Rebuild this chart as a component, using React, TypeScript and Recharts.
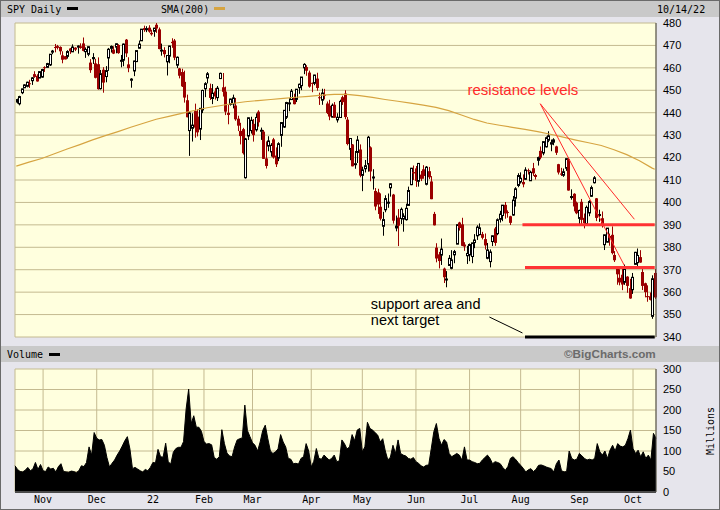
import React from 'react';
import {
  ComposedChart,
  Bar,
  Line,
  Area,
  XAxis,
  YAxis,
  CartesianGrid,
  ReferenceLine,
  ReferenceDot,
} from 'recharts';

// trading sessions, month by month
const months = ['2021-10', '2021-11', '2021-12', '2022-01', '2022-02', '2022-03', '2022-04', '2022-05', '2022-06', '2022-07', '2022-08', '2022-09', '2022-10'];
const tradingDays = [
  [15, 18, 19, 20, 21, 22, 25, 26, 27, 28, 29],
  [1, 2, 3, 4, 5, 8, 9, 10, 11, 12, 15, 16, 17, 18, 19, 22, 23, 24, 26, 29, 30],
  [1, 2, 3, 6, 7, 8, 9, 10, 13, 14, 15, 16, 17, 20, 21, 22, 23, 27, 28, 29, 30, 31],
  [3, 4, 5, 6, 7, 10, 11, 12, 13, 14, 18, 19, 20, 21, 24, 25, 26, 27, 28, 31],
  [1, 2, 3, 4, 7, 8, 9, 10, 11, 14, 15, 16, 17, 18, 22, 23, 24, 25, 28],
  [1, 2, 3, 4, 7, 8, 9, 10, 11, 14, 15, 16, 17, 18, 21, 22, 23, 24, 25, 28, 29, 30, 31],
  [1, 4, 5, 6, 7, 8, 11, 12, 13, 14, 18, 19, 20, 21, 22, 25, 26, 27, 28, 29],
  [2, 3, 4, 5, 6, 9, 10, 11, 12, 13, 16, 17, 18, 19, 20, 23, 24, 25, 26, 27, 31],
  [1, 2, 3, 6, 7, 8, 9, 10, 13, 14, 15, 16, 17, 21, 22, 23, 24, 27, 28, 29, 30],
  [1, 5, 6, 7, 8, 11, 12, 13, 14, 15, 18, 19, 20, 21, 22, 25, 26, 27, 28, 29],
  [1, 2, 3, 4, 5, 8, 9, 10, 11, 12, 15, 16, 17, 18, 19, 22, 23, 24, 25, 26, 29, 30, 31],
  [1, 2, 6, 7, 8, 9, 12, 13, 14, 15, 16, 19, 20, 21, 22, 23, 26, 27, 28, 29, 30],
  [3, 4, 5, 6, 7, 10, 11, 12, 13, 14],
];
const monthLabels = ['Nov', 'Dec', '22', 'Feb', 'Mar', 'Apr', 'May', 'Jun', 'Jul', 'Aug', 'Sep', 'Oct'];

const opens = [
  444.75, 443.97, 448.92, 451.13, 451.77, 453.13, 454.28, 457.2, 456.45, 455.46, 455.87,
  460.3, 460.22, 461.3, 467.0, 469.28, 469.7, 469.32, 465.58, 465.21, 465.12, 468.64, 467.15, 469.0, 469.24, 469.61, 470.89, 467.22, 466.06, 462.34, 464.07, 462.0,
  461.64, 450.73, 459.17, 456.13, 464.41, 468.7, 468.15, 469.23, 470.19, 463.09, 463.42, 472.57, 461.55, 454.48, 458.61, 462.79, 468.75, 472.06, 477.72, 476.98, 477.93, 475.64,
  476.3, 479.22, 477.16, 467.89, 467.95, 462.7, 465.23, 471.59, 472.19, 461.19, 459.74, 458.13, 453.75, 445.56, 432.03, 433.06, 440.72, 438.26, 432.68, 441.24,
  450.68, 455.5, 450.95, 446.35, 449.51, 446.73, 455.22, 451.34, 449.41, 439.92, 443.73, 443.93, 443.22, 437.33, 431.89, 432.66, 411.02, 429.61, 432.03,
  435.04, 432.37, 440.47, 431.75, 431.55, 419.62, 425.14, 422.52, 428.12, 420.89, 419.77, 429.89, 433.59, 438.0, 444.34, 445.86, 446.91, 445.94, 451.16, 452.06, 460.02, 460.34, 457.89,
  453.31, 453.13, 455.22, 446.89, 445.59, 447.97, 444.11, 443.08, 438.03, 443.55, 436.81, 437.86, 446.92, 448.54, 436.91, 423.67, 425.83, 417.24, 422.29, 423.59,
  412.07, 415.01, 417.08, 424.55, 411.1, 405.1, 404.49, 398.07, 389.37, 396.71, 399.98, 406.53, 403.5, 388.62, 393.25, 392.83, 392.56, 392.31, 398.67, 407.91, 413.55,
  415.17, 409.42, 412.4, 414.78, 408.1, 413.93, 409.34, 394.88, 379.85, 376.85, 376.51, 370.51, 365.51, 371.89, 370.62, 376.64, 381.4, 391.05, 390.23, 381.23, 376.24,
  376.56, 375.88, 382.11, 385.12, 385.65, 385.85, 383.65, 375.1, 373.61, 382.55, 388.38, 386.08, 392.47, 394.16, 398.92, 395.75, 393.84, 394.36, 401.89, 407.58,
  409.15, 409.12, 410.3, 414.37, 409.66, 415.25, 412.22, 418.78, 422.99, 422.03, 424.77, 427.73, 425.99, 426.86, 424.98, 417.05, 412.9, 412.11, 415.24, 419.39, 402.2, 403.85, 399.92,
  392.89, 400.28, 393.13, 390.37, 395.31, 402.74, 408.78, 401.83, 394.47, 392.96, 381.16, 382.26, 385.06, 385.56, 376.58, 370.58, 366.41, 367.76, 364.38, 366.92, 361.8,
  361.08, 372.4, 373.15, 375.62, 368.97, 363.96, 358.24, 358.17, 349.21, 368.55,
];
const highs = [
  446.26, 447.55, 450.71, 452.73, 453.83, 454.67, 455.9, 458.49, 457.16, 458.4, 459.56,
  460.7, 462.23, 466.15, 467.99, 470.65, 470.23, 469.57, 467.38, 465.29, 467.86, 468.81, 470.49, 469.19, 470.01, 470.94, 473.54, 469.1, 469.57, 463.9, 466.56, 464.03,
  464.67, 459.07, 460.3, 460.79, 468.88, 470.0, 469.63, 470.9, 470.56, 465.74, 470.86, 472.87, 464.74, 455.4, 463.21, 467.81, 472.19, 477.31, 478.81, 478.56, 479.0, 477.0,
  477.85, 479.98, 477.98, 470.82, 469.2, 465.74, 469.85, 473.2, 472.88, 465.09, 459.96, 459.61, 458.74, 448.06, 440.38, 439.72, 444.04, 441.59, 442.0, 450.28,
  453.63, 458.12, 452.97, 452.78, 450.99, 451.92, 457.88, 457.71, 451.61, 443.5, 446.28, 448.06, 446.57, 438.66, 435.5, 433.26, 428.76, 437.84, 438.2,
  437.17, 439.72, 441.11, 433.37, 432.3, 427.21, 429.51, 426.43, 428.77, 424.55, 426.84, 435.68, 441.07, 444.86, 446.46, 450.58, 448.49, 450.5, 452.98, 455.91, 462.07, 461.19, 458.76,
  453.46, 456.91, 457.83, 448.93, 450.69, 450.63, 445.0, 445.75, 444.11, 444.73, 439.75, 445.8, 447.57, 450.01, 438.08, 428.69, 426.04, 422.92, 429.64, 425.87,
  415.92, 418.93, 429.66, 425.0, 414.8, 406.41, 406.08, 404.04, 395.8, 403.18, 403.97, 408.57, 403.8, 394.14, 397.03, 397.73, 395.15, 399.45, 407.04, 415.38, 416.46,
  416.24, 417.44, 414.04, 416.61, 416.22, 415.82, 411.74, 395.78, 381.81, 377.94, 383.9, 370.94, 369.38, 376.53, 378.72, 378.83, 390.09, 391.36, 393.16, 382.27, 380.66,
  381.7, 381.98, 385.87, 389.83, 390.64, 386.87, 386.16, 381.92, 379.05, 385.25, 389.09, 392.87, 396.26, 398.84, 400.18, 396.47, 394.06, 402.88, 406.8, 413.03,
  413.41, 412.49, 415.68, 415.09, 414.15, 417.62, 412.75, 420.43, 424.95, 427.21, 429.4, 431.73, 428.03, 428.61, 425.26, 417.2, 415.42, 415.11, 419.56, 419.96, 405.84, 404.1, 400.38,
  396.78, 401.56, 395.06, 398.59, 401.02, 407.51, 411.73, 401.96, 396.77, 395.96, 385.62, 388.55, 386.12, 389.31, 378.3, 370.62, 370.21, 370.4, 372.3, 367.11, 365.91,
  368.55, 377.96, 379.46, 378.72, 370.26, 364.21, 363.03, 359.82, 367.51, 370.26,
];
const lows = [
  444.09, 443.27, 448.27, 451.01, 451.31, 451.05, 452.39, 455.56, 453.86, 455.45, 455.56,
  458.2, 460.08, 460.83, 466.09, 466.92, 468.2, 465.88, 462.04, 463.75, 464.11, 466.23, 467.07, 467.48, 466.34, 468.5, 467.35, 464.45, 465.19, 457.77, 461.73, 455.3,
  450.29, 450.31, 448.92, 453.56, 458.65, 466.83, 466.14, 466.51, 466.27, 460.25, 460.74, 464.8, 458.06, 451.14, 456.31, 462.58, 468.64, 472.01, 476.06, 475.92, 475.67, 474.35,
  473.85, 475.58, 468.28, 465.43, 464.65, 456.6, 462.05, 468.94, 463.44, 459.9, 455.31, 451.46, 444.5, 437.95, 420.76, 427.15, 428.86, 429.45, 427.82, 439.81,
  446.94, 453.05, 445.71, 443.83, 445.85, 445.22, 455.0, 447.2, 438.94, 434.84, 443.18, 441.94, 436.42, 431.82, 425.86, 421.35, 410.64, 427.86, 430.7,
  427.11, 431.57, 433.8, 427.88, 419.36, 415.12, 422.82, 420.44, 419.53, 415.79, 418.42, 424.8, 433.19, 437.22, 440.68, 445.86, 443.71, 444.76, 448.43, 450.06, 457.18, 456.47, 451.16,
  449.14, 452.26, 449.82, 443.47, 443.53, 445.94, 439.39, 436.65, 437.84, 437.68, 435.61, 437.68, 443.48, 437.1, 425.44, 418.84, 416.07, 415.01, 417.6, 411.21,
  405.02, 413.36, 413.71, 409.44, 405.73, 396.5, 394.82, 391.96, 385.15, 395.61, 397.6, 402.58, 390.55, 387.11, 380.54, 390.38, 386.96, 391.89, 398.45, 407.7, 410.03,
  406.93, 407.04, 409.51, 410.55, 407.61, 410.38, 401.44, 389.75, 373.3, 370.59, 372.12, 364.08, 362.17, 371.81, 370.18, 372.89, 381.37, 387.44, 380.53, 378.42, 372.56,
  373.8, 372.9, 379.6, 383.27, 385.3, 383.5, 378.99, 374.66, 371.04, 380.54, 380.66, 385.39, 391.03, 391.63, 392.75, 393.21, 389.95, 394.05, 398.15, 406.77,
  408.4, 406.74, 410.0, 412.44, 409.6, 411.83, 410.22, 416.44, 419.21, 421.03, 424.49, 426.87, 422.83, 425.5, 421.17, 412.45, 411.77, 411.39, 414.09, 405.25, 401.2, 396.0, 394.75,
  390.04, 390.33, 388.42, 390.2, 393.84, 402.46, 408.46, 391.67, 391.35, 388.78, 378.77, 382.18, 380.7, 376.8, 373.44, 363.29, 363.03, 360.88, 363.26, 359.7, 357.04,
  359.21, 372.15, 370.95, 373.09, 360.94, 357.67, 355.71, 356.3, 348.11, 356.96,
];
const closes = [
  445.87, 447.19, 450.64, 452.41, 453.59, 453.12, 455.55, 455.96, 453.94, 458.32, 459.25,
  460.04, 461.9, 466.09, 467.48, 468.93, 468.93, 467.38, 463.62, 463.77, 467.27, 467.43, 469.28, 468.14, 469.73, 468.89, 467.57, 468.19, 469.44, 458.97, 464.6, 455.56,
  450.5, 457.4, 453.42, 458.79, 468.28, 469.52, 466.35, 470.74, 466.57, 463.36, 470.6, 466.45, 459.87, 454.98, 463.06, 467.69, 470.6, 477.26, 476.87, 477.48, 476.16, 474.96,
  477.71, 477.55, 468.38, 467.94, 466.09, 465.51, 469.75, 471.02, 464.53, 464.72, 456.49, 451.75, 446.75, 437.98, 439.84, 434.47, 433.38, 431.24, 441.95, 449.91,
  452.95, 457.35, 446.6, 448.7, 447.26, 450.94, 457.54, 449.32, 440.46, 439.02, 446.1, 446.6, 437.06, 434.23, 429.57, 421.95, 428.3, 437.75, 436.63,
  429.98, 437.89, 435.71, 432.17, 419.43, 416.25, 427.41, 425.48, 420.07, 417.0, 426.17, 435.62, 441.07, 444.52, 444.39, 449.59, 443.8, 450.49, 452.69, 455.91, 461.55, 458.7, 451.64,
  452.92, 456.8, 451.03, 446.52, 448.77, 447.57, 439.92, 438.29, 443.31, 437.79, 437.97, 445.04, 444.71, 438.06, 426.04, 428.51, 416.1, 417.27, 427.81, 412.0,
  414.48, 416.38, 429.06, 413.81, 411.34, 398.17, 399.09, 392.75, 392.34, 401.72, 400.09, 408.32, 391.86, 389.46, 389.63, 396.92, 393.89, 397.37, 405.31, 415.26, 412.93,
  409.59, 417.39, 410.54, 411.79, 415.74, 411.22, 401.44, 389.8, 375.0, 373.87, 379.2, 366.65, 365.86, 375.07, 374.39, 378.06, 390.08, 388.59, 380.65, 380.34, 377.25,
  381.24, 381.96, 383.25, 388.99, 388.67, 384.23, 380.83, 378.83, 377.91, 385.13, 381.95, 392.27, 394.77, 398.79, 395.09, 395.57, 390.89, 401.04, 406.07, 411.99,
  410.77, 408.06, 414.45, 414.17, 413.47, 412.99, 411.35, 419.99, 419.99, 427.1, 428.86, 429.7, 426.65, 427.89, 422.14, 413.35, 412.35, 413.67, 419.51, 405.31, 402.63, 398.21, 395.18,
  396.42, 392.24, 390.76, 397.78, 400.38, 406.6, 410.97, 393.1, 394.6, 389.48, 385.56, 388.55, 384.09, 377.39, 374.22, 367.95, 364.31, 363.38, 370.53, 362.79, 357.18,
  366.61, 377.76, 376.35, 373.2, 362.79, 360.02, 357.74, 356.56, 365.97, 357.63,
];
// millions of shares
const volumes = [
  64, 55, 50, 49, 53, 60, 52, 56, 72, 55, 67,
  52, 50, 61, 56, 58, 49, 62, 69, 50, 49, 48, 51, 50, 47, 52, 64, 62, 72, 110, 90, 145,
  131, 127, 128, 114, 84, 61, 70, 78, 90, 100, 112, 125, 135, 105, 57, 60, 56, 52, 49, 55, 52, 60,
  72, 71, 104, 86, 85, 119, 74, 68, 97, 106, 109, 109, 123, 202, 251, 167, 186, 158, 158, 148,
  123, 117, 118, 115, 84, 80, 86, 152, 118, 95, 88, 86, 110, 127, 130, 132, 212, 150, 135,
  120, 114, 100, 122, 150, 163, 130, 100, 94, 98, 105, 140, 122, 110, 82, 80, 69, 70, 68, 82, 86, 118, 100,
  61, 75, 106, 82, 80, 90, 84, 78, 82, 90, 74, 76, 127, 118, 105, 110, 140, 125, 151, 155,
  98, 110, 170, 155, 151, 145, 139, 122, 130, 100, 78, 85, 114, 94, 127, 94, 90, 88, 82, 80, 84,
  74, 70, 64, 61, 65, 66, 106, 147, 167, 131, 114, 128, 122, 94, 86, 90, 94, 90, 78, 110, 78,
  78, 74, 72, 69, 70, 78, 84, 90, 82, 69, 74, 72, 69, 60, 53, 62, 82, 86, 80, 72,
  65, 58, 49, 54, 57, 50, 55, 65, 66, 64, 61, 59, 57, 49, 69, 78, 52, 49, 50, 100, 82, 78, 80,
  94, 88, 82, 78, 80, 78, 82, 118, 98, 90, 100, 82, 102, 114, 100, 118, 112, 110, 114, 130, 151,
  106, 94, 102, 86, 98, 82, 90, 78, 143, 131,
];
const smaIndex = [0, 5, 10, 15, 20, 25, 30, 35, 40, 45, 50, 55, 60, 65, 70, 75, 80, 85, 90, 95, 100, 105, 110, 115, 120, 125, 130, 135, 140, 145, 150, 155, 160, 165, 170, 175, 180, 185, 190, 195, 200, 205, 210, 215, 220, 225, 230, 235, 240, 245, 250, 251];
const smaValue = [416.2, 418.0, 419.6, 421.7, 423.8, 425.8, 427.9, 429.8, 431.6, 433.5, 435.3, 437.1, 438.4, 439.7, 441.0, 442.2, 443.1, 444.1, 444.9, 445.4, 445.9, 446.4, 446.9, 447.3, 447.8, 448.2, 448.2, 447.6, 446.8, 445.9, 445.1, 444.3, 443.4, 442.4, 440.9, 439.0, 437.0, 435.4, 434.4, 433.5, 432.6, 431.6, 430.4, 429.1, 427.8, 426.6, 425.4, 423.5, 421.3, 418.6, 415.3, 414.8];

const priceTicks = [340, 350, 360, 370, 380, 390, 400, 410, 420, 430, 440, 450, 460, 470, 480];
const volumeTicks = [0, 50, 100, 150, 200, 250, 300];

// hand-drawn annotations
const resistanceLevels = [390, 371];
const resistanceFrom = ['2022-08-02', '2022-08-03'];
const trendStart = { date: '2022-08-11', price: 444 };
const trendEnds = [
  { date: '2022-09-28', price: 372 },
  { date: '2022-10-04', price: 392.5 },
];
const supportLevel = 340;
const supportFrom = '2022-08-03';
const pointerLine = [
  { date: '2022-07-14', price: 348.9 },
  { date: '2022-08-02', price: 341.8 },
];

const pad = (n: number) => String(n).padStart(2, '0');
const dates = months.flatMap((m, i) => tradingDays[i].map((d) => `${m}-${pad(d)}`));
const monthStarts = months.slice(1).map((m, i) => `${m}-${pad(tradingDays[i + 1][0])}`);
const tickLabel: Record<string, string> = Object.fromEntries(monthStarts.map((d, i) => [d, monthLabels[i]]));
const smaByIndex = new Map(smaIndex.map((k, i) => [k, smaValue[i]]));

const rows = dates.map((date, i) => ({
  date,
  open: opens[i],
  high: highs[i],
  low: lows[i],
  close: closes[i],
  range: [lows[i], highs[i]],
  volume: volumes[i],
  sma: smaByIndex.get(i) ?? null,
}));

const PLOT_BG = '#FFFFDE';
const GRID = '#C4BA90';
const FRAME = '#4A4A4A';
const SMA_COLOR = '#D6A441';
const DOWN = '#9A0000';
const ANNOT_RED = '#FF2A2A';
const SANS = 'Liberation Sans, Arial, sans-serif';
const MONO = 'DejaVu Sans Mono, monospace';

const Candle = (props: any) => {
  const { x, y, width, height, index } = props;
  const d = rows[index] ?? props.payload;
  if (!d || !Number.isFinite(y)) return null;
  const top = Math.min(y, y + height);
  const h = Math.abs(height);
  const k = d.high > d.low ? h / (d.high - d.low) : 0;
  const cx = Math.round(x + width / 2);
  const yO = top + (d.high - d.open) * k;
  const yC = top + (d.high - d.close) * k;
  const up = d.close >= d.open;
  const bTop = Math.min(yO, yC);
  const bH = Math.max(Math.abs(yC - yO), 1);
  const color = up ? '#000000' : DOWN;
  return (
    <g>
      <line x1={cx + 0.5} x2={cx + 0.5} y1={top} y2={top + h} stroke={color} strokeWidth={1} />
      {up ? (
        <rect x={cx - 0.5} y={bTop} width={2} height={bH} fill="#FFFFFF" stroke="#000000" strokeWidth={1} />
      ) : (
        <rect x={cx - 1} y={bTop} width={3} height={bH} fill={DOWN} />
      )}
    </g>
  );
};

const noteLabel = (value: string, fill: string) => ({
  value,
  position: 'right' as const,
  offset: 0,
  fill,
  fontSize: 14.5,
  fontFamily: SANS,
});

export default function App() {
  return (
    <div style={{ position: 'absolute', left: 0, top: 0, width: 720, height: 510 }}>
      <svg width={720} height={510} style={{ position: 'absolute', left: 0, top: 0 }}>
        <rect width={720} height={510} fill="#E6E5EC" />
        <rect x={0} y={0} width={720} height={17} fill="#C9C9C9" />
        <rect x={0} y={346} width={720} height={16} fill="#C9C9C9" />
        <text x={7} y={12.5} fontFamily={MONO} fontSize={10} fill="#000">SPY Daily</text>
        <rect x={67} y={7} width={11} height={3} fill="#000" />
        <text x={161} y={12.5} fontFamily={MONO} fontSize={10} fill="#000">SMA(200)</text>
        <rect x={214} y={7} width={11} height={3} fill={SMA_COLOR} />
        <text x={657} y={12.5} fontFamily={MONO} fontSize={10} fill="#000">10/14/22</text>
        <text x={7} y={357.5} fontFamily={MONO} fontSize={10} fill="#000">Volume</text>
        <rect x={49} y={353} width={11} height={3} fill="#000" />
        <text x={564} y={358} fontFamily={SANS} fontWeight="bold" fontSize={11.7} fill="#6B6B6B">©BigCharts.com</text>
        <text transform="translate(714,431) rotate(-90)" textAnchor="middle" fontFamily={MONO} fontSize={10} fill="#000">Millions</text>
        <rect x={0.5} y={0.5} width={719} height={509} fill="none" stroke="#6A6A6A" />
      </svg>

      <div style={{ position: 'absolute', left: 0, top: 0 }}>
        <ComposedChart width={720} height={345} data={rows} margin={{ top: 23, right: 0, left: 15, bottom: 8 }} barCategoryGap={0} barGap={0}>
          <CartesianGrid stroke={GRID} fill={PLOT_BG} fillOpacity={1} />
          <XAxis dataKey="date" ticks={monthStarts} interval={0} tick={false} tickLine={false} height={0} axisLine={{ stroke: FRAME, strokeWidth: 2 }} />
          <YAxis
            orientation="right"
            domain={[340, 480]}
            ticks={priceTicks}
            interval={0}
            width={64}
            tickLine={false}
            tickMargin={1}
            axisLine={{ stroke: FRAME }}
            tick={{ fontSize: 11, fill: '#000', fontFamily: SANS }}
          />
          <Line dataKey="sma" stroke={SMA_COLOR} strokeWidth={1.2} dot={false} connectNulls isAnimationActive={false} />
          <Bar dataKey="range" shape={Candle} isAnimationActive={false} />
          {resistanceLevels.map((lvl, i) => (
            <ReferenceLine
              key={lvl}
              segment={[{ x: resistanceFrom[i], y: lvl }, { x: dates[dates.length - 1], y: lvl }]}
              stroke="#FF3333"
              strokeWidth={3}
            />
          ))}
          {trendEnds.map((end) => (
            <ReferenceLine
              key={end.date}
              segment={[{ x: trendStart.date, y: trendStart.price }, { x: end.date, y: end.price }]}
              stroke={ANNOT_RED}
              strokeWidth={1}
            />
          ))}
          <ReferenceLine
            segment={[{ x: supportFrom, y: supportLevel }, { x: dates[dates.length - 1], y: supportLevel }]}
            stroke="#000"
            strokeWidth={3}
          />
          <ReferenceLine
            segment={[{ x: pointerLine[0].date, y: pointerLine[0].price }, { x: pointerLine[1].date, y: pointerLine[1].price }]}
            stroke="#000"
            strokeWidth={1}
          />
          <ReferenceDot x="2022-06-30" y={450.3} r={1} fill="none" stroke="none" label={{ ...noteLabel('resistance levels', ANNOT_RED), fontSize: 15 }} />
          <ReferenceDot x="2022-05-05" y={354.6} r={1} fill="none" stroke="none" label={noteLabel('support area and', '#000')} />
          <ReferenceDot x="2022-05-05" y={347.6} r={1} fill="none" stroke="none" label={noteLabel('next target', '#000')} />
        </ComposedChart>
      </div>

      <div style={{ position: 'absolute', left: 0, top: 345 }}>
        <ComposedChart width={720} height={165} data={rows} margin={{ top: 24, right: 0, left: 15, bottom: 0 }}>
          <CartesianGrid stroke={GRID} fill={PLOT_BG} fillOpacity={1} />
          <XAxis
            dataKey="date"
            ticks={monthStarts}
            interval={0}
            height={18}
            tickLine={false}
            tickSize={0}
            tickMargin={4}
            axisLine={{ stroke: FRAME, strokeWidth: 2 }}
            tickFormatter={(v: string) => tickLabel[v] ?? ''}
            tick={{ fontSize: 10, fill: '#000', fontFamily: MONO }}
          />
          <YAxis
            orientation="right"
            domain={[0, 300]}
            ticks={volumeTicks}
            interval={0}
            width={64}
            tickLine={false}
            tickMargin={1}
            axisLine={{ stroke: FRAME }}
            tick={{ fontSize: 11, fill: '#000', fontFamily: SANS }}
          />
          <Area dataKey="volume" type="linear" stroke="#000" strokeWidth={1} fill="#000" fillOpacity={1} isAnimationActive={false} />
        </ComposedChart>
      </div>
    </div>
  );
}
